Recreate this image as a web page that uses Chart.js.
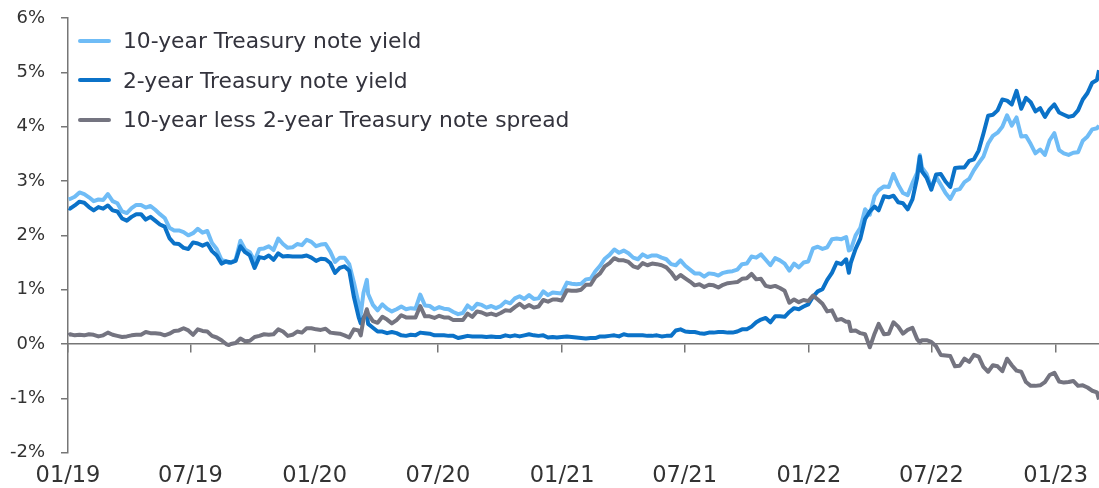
<!DOCTYPE html>
<html>
<head>
<meta charset="utf-8">
<script src="https://cdn.jsdelivr.net/npm/chart.js@4.4.1/dist/chart.umd.min.js"></script>
<style>
  html, body { margin: 0; padding: 0; background: #fff; }
  #wrap { position: relative; width: 1099px; height: 488px; }
  #legend { position: absolute; left: 78px; top: 21px; font-family: 'DejaVu Sans', sans-serif; font-size: 21.8px; color: #33333d; }
  .item { display: flex; align-items: center; height: 39.5px; white-space: nowrap; }
  .swatch { width: 33px; height: 4px; border-radius: 2px; margin-right: 12px; }
</style>
</head>
<body>
<div id="wrap">
  <canvas id="yieldChart" width="1099" height="488"></canvas>
  <div id="legend"></div>
</div>
<script>
// weekly readings, % (10y, 2y, 10y less 2y)
const dates = [
  '2019-01-02','2019-01-04','2019-01-11','2019-01-18','2019-01-25','2019-02-01','2019-02-08','2019-02-15','2019-02-22',
  '2019-03-01','2019-03-08','2019-03-15','2019-03-22','2019-03-29','2019-04-05','2019-04-12','2019-04-19','2019-04-26',
  '2019-05-03','2019-05-10','2019-05-17','2019-05-24','2019-05-31','2019-06-07','2019-06-14','2019-06-21','2019-06-28',
  '2019-07-05','2019-07-12','2019-07-19','2019-07-26','2019-08-02','2019-08-09','2019-08-16','2019-08-23','2019-08-27',
  '2019-08-30','2019-09-06','2019-09-13','2019-09-20','2019-09-27','2019-10-04','2019-10-11','2019-10-18','2019-10-25',
  '2019-11-01','2019-11-08','2019-11-15','2019-11-22','2019-11-29','2019-12-06','2019-12-13','2019-12-20','2019-12-27',
  '2020-01-03','2020-01-10','2020-01-17','2020-01-24','2020-01-31','2020-02-07','2020-02-14','2020-02-21','2020-02-28',
  '2020-03-06','2020-03-09','2020-03-13','2020-03-18','2020-03-20','2020-03-27','2020-04-03','2020-04-10','2020-04-17',
  '2020-04-24','2020-05-01','2020-05-08','2020-05-15','2020-05-22','2020-05-29','2020-06-05','2020-06-12','2020-06-19',
  '2020-06-26','2020-07-03','2020-07-10','2020-07-17','2020-07-24','2020-07-31','2020-08-07','2020-08-14','2020-08-21',
  '2020-08-28','2020-09-04','2020-09-11','2020-09-18','2020-09-25','2020-10-02','2020-10-09','2020-10-16','2020-10-23',
  '2020-10-30','2020-11-06','2020-11-13','2020-11-20','2020-11-27','2020-12-04','2020-12-11','2020-12-18','2020-12-24',
  '2020-12-31','2021-01-08','2021-01-15','2021-01-22','2021-01-29','2021-02-05','2021-02-12','2021-02-19','2021-02-26',
  '2021-03-05','2021-03-12','2021-03-19','2021-03-26','2021-04-02','2021-04-09','2021-04-16','2021-04-23','2021-04-30',
  '2021-05-07','2021-05-14','2021-05-21','2021-05-28','2021-06-04','2021-06-11','2021-06-18','2021-06-25','2021-07-02',
  '2021-07-09','2021-07-16','2021-07-23','2021-07-30','2021-08-06','2021-08-13','2021-08-20','2021-08-27','2021-09-03',
  '2021-09-10','2021-09-17','2021-09-24','2021-10-01','2021-10-08','2021-10-15','2021-10-22','2021-10-29','2021-11-05',
  '2021-11-12','2021-11-19','2021-11-26','2021-12-03','2021-12-10','2021-12-17','2021-12-24','2021-12-31','2022-01-07',
  '2022-01-14','2022-01-21','2022-01-28','2022-02-04','2022-02-11','2022-02-18','2022-02-25','2022-03-01','2022-03-04',
  '2022-03-11','2022-03-18','2022-03-25','2022-04-01','2022-04-08','2022-04-14','2022-04-22','2022-04-29','2022-05-06',
  '2022-05-13','2022-05-20','2022-05-27','2022-06-03','2022-06-10','2022-06-14','2022-06-17','2022-06-24','2022-07-01',
  '2022-07-08','2022-07-15','2022-07-22','2022-07-29','2022-08-05','2022-08-12','2022-08-19','2022-08-26','2022-09-02',
  '2022-09-09','2022-09-16','2022-09-23','2022-09-30','2022-10-07','2022-10-14','2022-10-21','2022-10-28','2022-11-04',
  '2022-11-11','2022-11-18','2022-11-25','2022-12-02','2022-12-09','2022-12-16','2022-12-23','2022-12-30','2023-01-06',
  '2023-01-13','2023-01-20','2023-01-27','2023-02-03','2023-02-10','2023-02-17','2023-02-24','2023-03-03','2023-03-06'
];

const tenYear = [
  2.66,2.67,2.71,2.79,2.76,2.70,2.63,2.66,2.65,
  2.76,2.63,2.59,2.44,2.41,2.50,2.56,2.56,2.51,
  2.54,2.47,2.39,2.32,2.14,2.09,2.09,2.06,2.00,
  2.04,2.12,2.05,2.08,1.86,1.75,1.55,1.52,1.49,
  1.50,1.55,1.90,1.74,1.69,1.53,1.75,1.76,1.80,
  1.73,1.94,1.84,1.77,1.78,1.84,1.82,1.92,1.88,
  1.80,1.83,1.84,1.70,1.51,1.59,1.59,1.47,1.13,
  0.74,0.54,0.94,1.18,0.92,0.72,0.62,0.73,0.65,
  0.60,0.64,0.69,0.64,0.66,0.65,0.91,0.71,0.70,
  0.64,0.68,0.65,0.64,0.59,0.55,0.57,0.71,0.64,
  0.74,0.72,0.67,0.70,0.66,0.70,0.78,0.75,0.84,
  0.88,0.83,0.90,0.83,0.84,0.97,0.90,0.95,0.94,
  0.93,1.13,1.11,1.10,1.11,1.19,1.20,1.34,1.44,
  1.57,1.64,1.74,1.68,1.72,1.67,1.59,1.56,1.65,
  1.60,1.63,1.63,1.59,1.56,1.47,1.45,1.54,1.44,
  1.37,1.30,1.30,1.24,1.30,1.29,1.26,1.31,1.33,
  1.34,1.37,1.47,1.48,1.61,1.59,1.65,1.55,1.45,
  1.58,1.54,1.48,1.35,1.48,1.41,1.50,1.52,1.76,
  1.79,1.75,1.78,1.93,1.94,1.93,1.97,1.72,1.74,
  2.00,2.14,2.48,2.38,2.72,2.83,2.90,2.89,3.13,
  2.93,2.78,2.74,2.96,3.15,3.48,3.25,3.13,2.88,
  3.08,2.93,2.78,2.67,2.83,2.85,2.98,3.04,3.20,
  3.33,3.45,3.69,3.83,3.89,4.00,4.21,4.02,4.17,
  3.82,3.83,3.68,3.51,3.58,3.48,3.75,3.88,3.57,
  3.51,3.48,3.52,3.53,3.74,3.82,3.95,3.97,4.02
];

const twoYear = [
  2.50,2.49,2.55,2.62,2.60,2.52,2.46,2.52,2.49,
  2.55,2.46,2.44,2.31,2.27,2.34,2.39,2.39,2.29,
  2.34,2.27,2.20,2.16,1.95,1.85,1.84,1.77,1.75,
  1.87,1.85,1.81,1.85,1.71,1.63,1.48,1.52,1.51,
  1.50,1.53,1.80,1.69,1.63,1.40,1.60,1.58,1.63,
  1.55,1.67,1.61,1.62,1.61,1.61,1.61,1.63,1.59,
  1.53,1.57,1.56,1.49,1.31,1.40,1.43,1.35,0.86,
  0.49,0.38,0.49,0.54,0.37,0.30,0.23,0.23,0.20,
  0.22,0.20,0.16,0.15,0.17,0.16,0.21,0.20,0.19,
  0.16,0.16,0.16,0.15,0.15,0.11,0.13,0.15,0.14,
  0.14,0.14,0.13,0.14,0.13,0.13,0.16,0.14,0.16,
  0.14,0.16,0.18,0.16,0.15,0.16,0.12,0.13,0.12,
  0.13,0.14,0.13,0.12,0.11,0.10,0.11,0.11,0.14,
  0.14,0.15,0.16,0.14,0.18,0.16,0.16,0.16,0.16,
  0.15,0.15,0.16,0.14,0.15,0.15,0.25,0.27,0.23,
  0.22,0.22,0.20,0.19,0.21,0.21,0.22,0.22,0.21,
  0.21,0.23,0.27,0.27,0.32,0.40,0.45,0.48,0.40,
  0.51,0.51,0.50,0.59,0.66,0.64,0.69,0.73,0.87,
  0.97,1.01,1.18,1.31,1.50,1.47,1.56,1.31,1.50,
  1.75,1.94,2.30,2.44,2.53,2.46,2.72,2.70,2.73,
  2.61,2.59,2.48,2.66,3.06,3.45,3.18,3.06,2.84,
  3.12,3.13,2.99,2.89,3.24,3.25,3.25,3.37,3.40,
  3.56,3.87,4.20,4.22,4.30,4.50,4.48,4.41,4.66,
  4.33,4.53,4.45,4.28,4.34,4.18,4.32,4.41,4.26,
  4.22,4.18,4.20,4.30,4.50,4.62,4.81,4.86,5.04
];

const spread = [
  0.16,0.18,0.16,0.17,0.16,0.18,0.17,0.14,0.16,
  0.21,0.17,0.15,0.13,0.14,0.16,0.17,0.17,0.22,
  0.20,0.20,0.19,0.16,0.19,0.24,0.25,0.29,0.25,
  0.17,0.27,0.24,0.23,0.15,0.12,0.07,0.00,-0.02,
  0.00,0.02,0.10,0.05,0.06,0.13,0.15,0.18,0.17,
  0.18,0.27,0.23,0.15,0.17,0.23,0.21,0.29,0.29,
  0.27,0.26,0.28,0.21,0.20,0.19,0.16,0.12,0.27,
  0.25,0.16,0.45,0.64,0.55,0.42,0.39,0.50,0.45,
  0.38,0.44,0.53,0.49,0.49,0.49,0.70,0.51,0.51,
  0.48,0.52,0.49,0.49,0.44,0.44,0.44,0.56,0.50,
  0.60,0.58,0.54,0.56,0.53,0.57,0.62,0.61,0.68,
  0.74,0.67,0.72,0.67,0.69,0.81,0.78,0.82,0.82,
  0.80,0.99,0.98,0.98,1.00,1.09,1.09,1.23,1.30,
  1.43,1.49,1.58,1.54,1.54,1.51,1.43,1.40,1.49,
  1.45,1.48,1.47,1.45,1.41,1.32,1.20,1.27,1.21,
  1.15,1.08,1.10,1.05,1.09,1.08,1.04,1.09,1.12,
  1.13,1.14,1.20,1.21,1.29,1.19,1.20,1.07,1.05,
  1.07,1.03,0.98,0.76,0.82,0.77,0.81,0.79,0.89,
  0.82,0.74,0.60,0.62,0.44,0.46,0.41,0.41,0.24,
  0.25,0.20,0.18,-0.06,0.19,0.37,0.18,0.19,0.40,
  0.32,0.19,0.26,0.30,0.09,0.03,0.07,0.07,0.04,
  -0.04,-0.20,-0.21,-0.22,-0.41,-0.40,-0.27,-0.33,-0.20,
  -0.23,-0.42,-0.51,-0.39,-0.41,-0.50,-0.27,-0.39,-0.49,
  -0.51,-0.70,-0.77,-0.77,-0.76,-0.70,-0.57,-0.53,-0.69,
  -0.71,-0.70,-0.68,-0.77,-0.76,-0.80,-0.86,-0.89,-1.02
];

const tickDates = ['2019-01-01','2019-07-01','2020-01-01','2020-07-01','2021-01-01','2021-07-01','2022-01-01','2022-07-01','2023-01-01'];
const tickLabels = ['01/19','07/19','01/20','07/20','01/21','07/21','01/22','07/22','01/23'];
const seriesLabels = ['10-year Treasury note yield', '2-year Treasury note yield', '10-year less 2-year Treasury note spread'];
const seriesColors = ['#6fbcf6', '#0b72c8', '#747480'];

const origin = Date.UTC(2019, 0, 1);
function dayOf(s) {
  const p = s.split('-').map(Number);
  return Math.round((Date.UTC(p[0], p[1] - 1, p[2]) - origin) / 86400000);
}
const days = dates.map(dayOf);
const tickDays = tickDates.map(dayOf);
const xMax = days[days.length - 1];

function points(values) {
  return values.map((v, i) => ({ x: days[i], y: v }));
}

const axisColor = '#767676';
const setTicks = scale => { scale.ticks = tickDays.map(v => ({ value: v })); };

const ctx = document.getElementById('yieldChart').getContext('2d');
const chart = new Chart(ctx, {
  type: 'line',
  data: {
    datasets: [tenYear, twoYear, spread].map((vals, i) => ({
      label: seriesLabels[i],
      data: points(vals),
      borderColor: seriesColors[i],
      backgroundColor: seriesColors[i],
      borderWidth: 4,
      pointRadius: 0,
      tension: 0,
      borderJoinStyle: 'round',
      order: 2 - i
    }))
  },
  options: {
    responsive: false,
    animation: false,
    layout: { padding: { top: 18, right: 0, bottom: 0, left: 0 } },
    plugins: {
      legend: { display: false },
      tooltip: { enabled: false }
    },
    scales: {
      x: {
        type: 'linear',
        min: 0,
        max: xMax,
        afterBuildTicks: setTicks,
        afterFit: scale => { scale.height = 35.3; },
        grid: { display: false, drawTicks: false },
        border: { display: false },
        ticks: {
          autoSkip: false,
          maxRotation: 0,
          padding: 10,
          color: '#333',
          font: { family: 'DejaVu Sans', size: 22.5 },
          callback: (v, i) => tickLabels[i]
        }
      },
      xZero: {
        type: 'linear',
        min: 0,
        max: xMax,
        position: { y: 0 },
        afterBuildTicks: setTicks,
        grid: { drawOnChartArea: false, drawTicks: true, tickLength: 8, color: axisColor, lineWidth: 1.5 },
        border: { display: true, color: axisColor, width: 1.5 },
        ticks: { display: false }
      },
      y: {
        min: -2,
        max: 6,
        afterFit: scale => {
          scale.width = 68;
          // label padding would otherwise push the plot top down
          scale.paddingTop = 0;
          scale.paddingBottom = 0;
        },
        grid: { drawOnChartArea: false, tickLength: 7, color: axisColor, lineWidth: 1.5 },
        border: { display: true, color: axisColor, width: 1.5 },
        ticks: {
          stepSize: 1,
          padding: 16,
          color: '#333',
          font: { family: 'DejaVu Sans', size: 18 },
          callback: v => v + '%'
        }
      }
    }
  }
});

// legend sits over the plot, top left
const legend = document.getElementById('legend');
chart.data.datasets.forEach(ds => {
  const row = document.createElement('div');
  row.className = 'item';
  const sw = document.createElement('span');
  sw.className = 'swatch';
  sw.style.background = ds.borderColor;
  const txt = document.createElement('span');
  txt.textContent = ds.label;
  row.appendChild(sw);
  row.appendChild(txt);
  legend.appendChild(row);
});
</script>
</body>
</html>
